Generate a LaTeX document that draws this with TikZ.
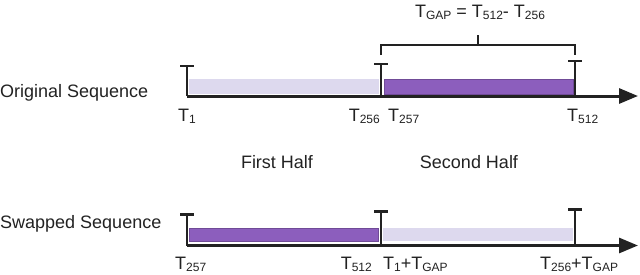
\documentclass[tikz,border=0pt]{standalone}
\usepackage{fontspec}
\setmainfont{Liberation Sans}
\usetikzlibrary{arrows.meta,positioning}
\definecolor{SeqPurple}{HTML}{8C5EBD}
\definecolor{SeqLavender}{HTML}{DDD9EE}
\definecolor{AxisInk}{HTML}{222222}
\newcommand{\tsub}[1]{\raisebox{-2pt}{\fontsize{12}{12}\selectfont #1}}

\begin{document}
\begin{tikzpicture}[x=1pt,y=-1pt,
    axis/.style={line width=3pt,AxisInk,-{Triangle[length=19pt,width=15pt]}},
    stopper/.style={line width=2.2pt,AxisInk},
    brace/.style={line width=1.6pt,AxisInk},
    darkhalf/.style={fill=SeqPurple,draw=SeqPurple!80!black,line width=.6pt},
    lighthalf/.style={fill=SeqLavender},
    lbl/.style={font=\fontsize{18}{20}\selectfont,inner sep=0pt,text=AxisInk}]
  \useasboundingbox (0,0) rectangle (640,274);
  % original sequence
  \coordinate (a1) at (187,96);
  \coordinate (a2) at (381,96);
  \coordinate (a3) at (575,96);
  \coordinate (aend) at (638,96);
  \fill[lighthalf] (189,79) rectangle (379,94);
  \filldraw[darkhalf] (384,79) rectangle (573,94);
  \draw[axis] (a1) -- (aend);
  \foreach \c/\h in {a1/30,a2/32,a3/35}
    \draw[stopper] (\c) -- ++(0,-\h) ++(-7,0) -- ++(14,0);
  % swapped sequence
  \coordinate (b1) at (187,245.5);
  \coordinate (b2) at (381,245.5);
  \coordinate (b3) at (575,245.5);
  \coordinate (bend) at (638,245.5);
  \filldraw[darkhalf] (189,228) rectangle (378,241);
  \fill[lighthalf] (383,228) rectangle (573,241);
  \draw[axis] (b1) -- (bend);
  \foreach \c/\h in {b1/31,b2/34,b3/36}
    \draw[stopper] (\c) -- ++(0,-\h) ++(-7,0) -- ++(14,0);
  % gap bracket
  \coordinate (gl) at (381,55);
  \coordinate (gr) at (575,55);
  \coordinate (gm) at (478,35);
  \draw[brace] (gl) -- ++(0,-10) -| (gr);
  \draw[brace] (gm) -- ++(0,10);
  \node[lbl,anchor=base] (gap) at (480,17) {T\tsub{GAP} = T\tsub{512}- T\tsub{256}};
  % labels
  \node[lbl,anchor=base west] (orig) at (0,97) {Original Sequence};
  \node[lbl,anchor=base west] (swap) at (0,228) {Swapped Sequence};
  \node[lbl,anchor=base] (first) at (277,168) {First Half};
  \node[lbl,anchor=base] (second) at (469,168) {Second Half};
  \node[lbl,anchor=base west] (ta1) at (178,121) {T\tsub{1}};
  \node[lbl,anchor=base east] (ta256) at (380,121) {T\tsub{256}};
  \node[lbl,anchor=base west] (ta257) at (388,121) {T\tsub{257}};
  \node[lbl,anchor=base west] (ta512) at (567,121) {T\tsub{512}};
  \node[lbl,anchor=base west] (tb257) at (175,269) {T\tsub{257}};
  \node[lbl,anchor=base east] (tb512) at (372,269) {T\tsub{512}};
  \node[lbl,anchor=base west] (tb1) at (383,269) {T\tsub{1}+T\tsub{GAP}};
  \node[lbl,anchor=base west] (tb256) at (540,269) {T\tsub{256}+T\tsub{GAP}};
\end{tikzpicture}
\end{document}
